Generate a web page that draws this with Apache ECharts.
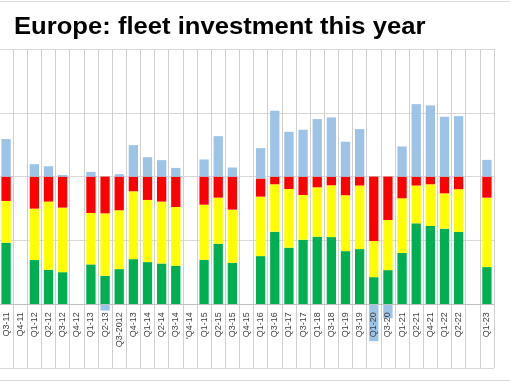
<!DOCTYPE html>
<html>
<head>
<meta charset="utf-8">
<script src="https://cdn.jsdelivr.net/npm/echarts@6/dist/echarts.min.js"></script>
<style>html,body{margin:0;padding:0;background:#fff;}#c{width:510px;height:382px;}</style>
</head>
<body>
<div id="c"></div>
<script>
const categories = ['Q3-11','Q4-11','Q1-12','Q2-12','Q3-12','Q4-12','Q1-13','Q2-13','Q3-2012','Q4-13','Q1-14','Q2-14','Q3-14',"'Q4-14",'Q1-15','Q2-15','Q3-15','Q4-15','Q1-16','Q3-16','Q1-17','Q3-17','Q1-18','Q3-18','Q1-19','Q3-19','Q1-20','Q3-20','Q1-21','Q2-21','Q4-21','Q1-22','Q2-22','','Q1-23'];
const green  = [48.2,null,34.6,27.0,25.1,null,31.2,22.3,27.5,35.3,33.0,31.9,30.1,null,34.8,47.4,32.5,null,37.7,56.8,44.3,50.5,52.9,52.6,41.6,43.2,21.2,26.7,40.1,63.4,61.3,59.2,56.6,null,29.1];
const yellow = [32.7,null,40.3,53.4,50.6,null,40.3,48.9,46.1,53.2,48.7,48.5,46.1,null,43.2,36.1,41.6,null,46.6,37.2,46.0,35.1,38.7,40.6,43.8,49.8,28.3,39.3,42.9,29.6,32.7,27.7,33.5,null,54.4];
const red    = [19.1,null,25.1,19.6,24.3,null,28.5,28.8,26.4,11.5,18.3,19.6,23.8,null,22.0,16.5,25.9,null,14.2,6.0,9.7,14.4,8.4,6.8,14.6,7.0,50.5,34.0,17.0,7.0,6.0,13.1,9.9,null,16.5];
const blue   = [29.4,null,9.7,8.1,1.3,null,3.7,-5,1.9,24.6,15.2,12.9,6.8,null,13.4,31.7,7.1,null,23.8,51.6,35.1,36.7,45.1,46.4,27.3,37.2,-29,-11,23.6,56.8,55.8,46.9,47.4,null,13.1];
const titleText = 'Europe: fleet investment this year';

const chart = echarts.init(document.getElementById('c'), null, {renderer: 'canvas'});
const mk = (name, data, color) => ({
  name, type: 'bar', stack: 'total', data, barWidth: 9.3,
  itemStyle: {color}, emphasis: {disabled: true}
});
chart.setOption({
  animation: false,
  backgroundColor: '#fff',
  grid: {left: -1, right: 16, top: 49, bottom: 14, containLabel: false, outerBoundsMode: 'none'},
  xAxis: {
    type: 'category', data: categories, z: 5, offset: -63.8,
    axisLine: {onZero: false, lineStyle: {color: '#bfbfbf', width: 1}},
    axisTick: {show: false},
    axisLabel: {interval: 0, rotate: 90, fontSize: 9, color: '#404040', margin: 8, fontFamily: 'Liberation Sans, Arial, sans-serif'},
    splitLine: {show: true, interval: 0, lineStyle: {color: '#d0d0d0', width: 1}}
  },
  yAxis: {
    type: 'value', min: -50, max: 200, interval: 50,
    axisLabel: {show: false}, axisLine: {show: false}, axisTick: {show: false},
    splitLine: {show: true, lineStyle: {color: '#d9d9d9', width: 1}}
  },
  series: [
    mk('green', green, '#00B050'),
    mk('yellow', yellow, '#FFFF00'),
    mk('red', red, '#FF0000'),
    mk('blue', blue, '#9DC3E6')
  ],
  graphic: [
    {type: 'line', shape: {x1: 0, y1: 1.5, x2: 510, y2: 1.5}, style: {stroke: '#d9d9d9', lineWidth: 1}},
    {type: 'line', shape: {x1: 0, y1: 380.5, x2: 510, y2: 380.5}, style: {stroke: '#d9d9d9', lineWidth: 1}},
    {type: 'text', x: 14, y: 28, scaleX: 1.09,
     style: {text: titleText, fill: '#000', font: 'bold 23.5px "Liberation Sans", Arial, sans-serif', align: 'left', verticalAlign: 'middle'}}
  ]
});
</script>
</body>
</html>
